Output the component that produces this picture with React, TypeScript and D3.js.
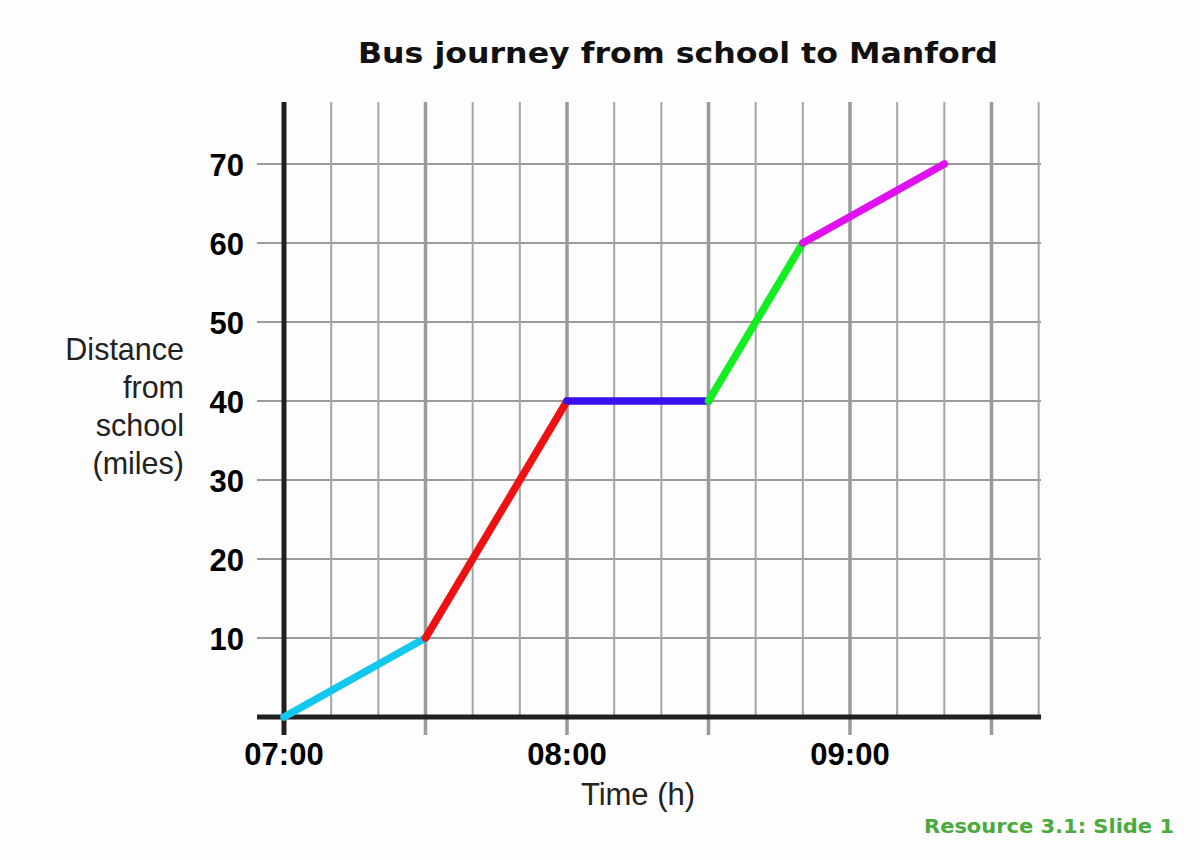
import React from "react";
import * as d3 from "d3";

const timeMinutes = [0, 30, 60, 90, 110, 140];
const distances = [0, 10, 40, 40, 60, 70];
const segmentColors = ["#12c8ee", "#ee1111", "#3a0ff0", "#12ee22", "#e010f0"];
const yTicks = [10, 20, 30, 40, 50, 60, 70];
const xLabels = [
  { m: 0, label: "07:00" },
  { m: 60, label: "08:00" },
  { m: 120, label: "09:00" },
];
const yTitleLines = ["Distance", "from", "school", "(miles)"];

export default function App() {
  const W = 1200, H = 860;
  const x = d3.scaleLinear().domain([0, 60]).range([284, 567]);
  const y = d3.scaleLinear().domain([0, 10]).range([717, 638]);
  const gridTop = 102;
  const gridLeft = 257;
  const gridRight = 1041;
  const vMinutes = d3.range(10, 161, 10);

  const segs = segmentColors.map((c, i) => ({
    c,
    x1: x(timeMinutes[i]), y1: y(distances[i]),
    x2: x(timeMinutes[i + 1]), y2: y(distances[i + 1]),
  }));

  return (
    <svg width={W} height={H} style={{ position: "absolute", left: 0, top: 0, background: "#fdfdfd" }}>
      <rect width={W} height={H} fill="#fdfdfd" />
      <text x={678} y={63} textAnchor="middle" fontFamily="DejaVu Sans, Verdana" fontWeight="bold" fontSize={29}
        textLength={640} lengthAdjust="spacingAndGlyphs" fill="#111">
        Bus journey from school to Manford
      </text>
      {/* horizontal grid */}
      {yTicks.map((t) => (
        <line key={"h" + t} x1={gridLeft} x2={gridRight} y1={y(t)} y2={y(t)} stroke="#7a7a7a" strokeWidth={1.5} />
      ))}
      {/* vertical grid */}
      {vMinutes.map((m) => {
        const major = m % 30 === 0;
        return (
          <line key={"v" + m} x1={x(m)} x2={x(m)} y1={gridTop} y2={major ? 735 : 717}
            stroke={major ? "#9a9a9a" : "#a5a5a5"} strokeWidth={major ? 3.5 : 2} />
        );
      })}
      {/* axes */}
      <line x1={gridLeft} x2={gridRight} y1={y(0)} y2={y(0)} stroke="#231f20" strokeWidth={5} />
      <line x1={x(0)} x2={x(0)} y1={gridTop} y2={735} stroke="#231f20" strokeWidth={5} />
      {/* data */}
      {segs.map((s, i) => (
        <line key={"s" + i} x1={s.x1} y1={s.y1} x2={s.x2} y2={s.y2} stroke={s.c} strokeWidth={7.5} strokeLinecap="round" />
      ))}
      {/* y tick labels */}
      {yTicks.map((t) => (
        <text key={"yl" + t} x={244} y={y(t) + 12} textAnchor="end" fontFamily="Liberation Sans, Arial" fontWeight="bold" fontSize={31} fill="#000">
          {t}
        </text>
      ))}
      {xLabels.map((l) => (
        <text key={"xl" + l.m} x={x(l.m)} y={765} textAnchor="middle" fontFamily="Liberation Sans, Arial" fontWeight="bold" fontSize={31} fill="#000">
          {l.label}
        </text>
      ))}
      <text x={638} y={805} textAnchor="middle" fontFamily="Liberation Sans, Arial" fontSize={31} fill="#222">
        Time (h)
      </text>
      {yTitleLines.map((l, i) => (
        <text key={"yt" + i} x={184} y={360 + i * 38} textAnchor="end" fontFamily="Liberation Sans, Arial" fontSize={30.5} fill="#222">
          {l}
        </text>
      ))}
      <text x={1174} y={833} textAnchor="end" fontFamily="DejaVu Sans, Verdana" fontWeight="bold" fontSize={20}
        textLength={250} lengthAdjust="spacingAndGlyphs" fill="#4aaa3c">
        Resource 3.1: Slide 1
      </text>
    </svg>
  );
}
